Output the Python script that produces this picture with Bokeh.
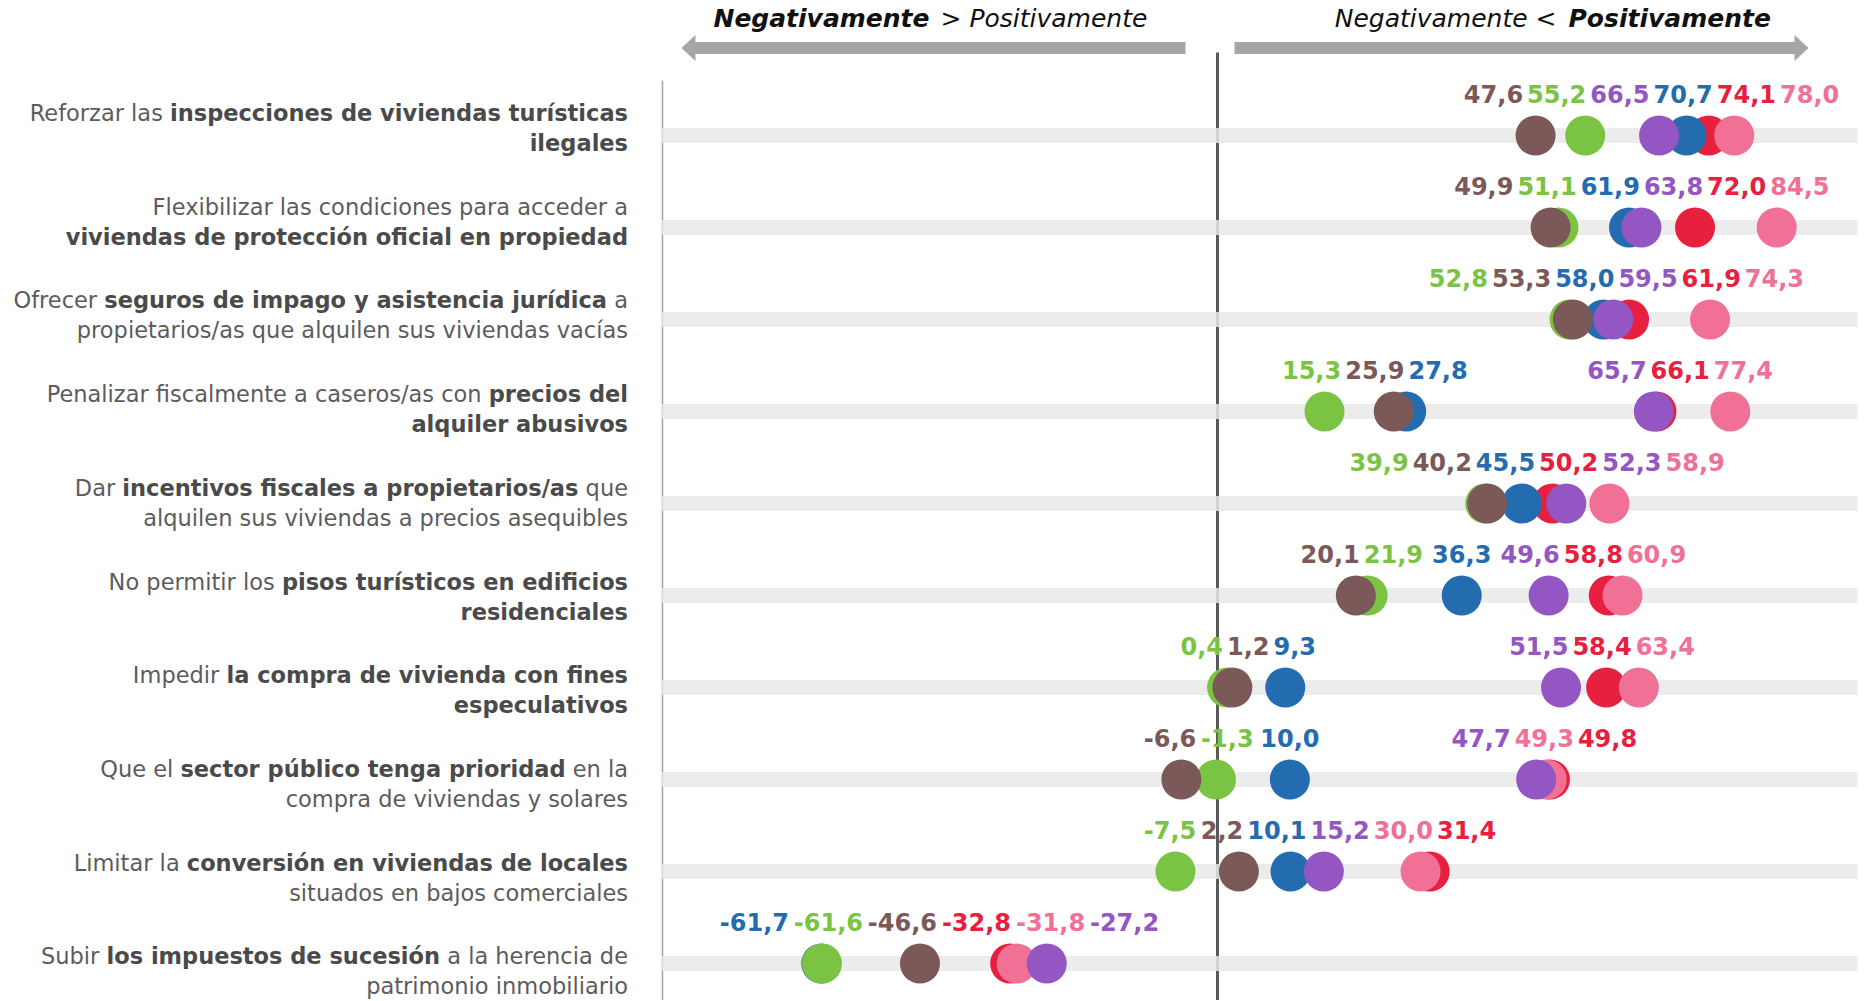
from bokeh.plotting import figure
from bokeh.models import Range1d, Div, ColumnDataSource
from bokeh.layouts import row, column
from bokeh.embed import file_html
from bokeh.resources import INLINE
from bokeh.core.properties import value

# ---------------- data ----------------
categories = [
    'Reforzar las <b>inspecciones de viviendas turísticas</b><br><b>ilegales</b>',
    'Flexibilizar las condiciones para acceder a<br><b>viviendas de protección oficial en propiedad</b>',
    'Ofrecer <b>seguros de impago y asistencia jurídica</b> a<br>propietarios/as que alquilen sus viviendas vacías',
    'Penalizar fiscalmente a caseros/as con <b>precios del</b><br><b>alquiler abusivos</b>',
    'Dar <b>incentivos fiscales a propietarios/as</b> que<br>alquilen sus viviendas a precios asequibles',
    'No permitir los <b>pisos turísticos en edificios</b><br><b>residenciales</b>',
    'Impedir <b>la compra de vivienda con fines</b><br><b>especulativos</b>',
    'Que el <b>sector público tenga prioridad</b> en la<br>compra de viviendas y solares',
    'Limitar la <b>conversión en viviendas de locales</b><br>situados en bajos comerciales',
    'Subir <b>los impuestos de sucesión</b> a la herencia de<br>patrimonio inmobiliario',
]

serie_marron  = [47.6, 49.9, 53.3, 25.9, 40.2, 20.1, 1.2, -6.6, 2.2, -46.6]
serie_verde   = [55.2, 51.1, 52.8, 15.3, 39.9, 21.9, 0.4, -1.3, -7.5, -61.6]
serie_azul    = [70.7, 61.9, 58.0, 27.8, 45.5, 36.3, 9.3, 10.0, 10.1, -61.7]
serie_roja    = [74.1, 72.0, 61.9, 66.1, 50.2, 58.8, 58.4, 49.8, 31.4, -32.8]
serie_morada  = [66.5, 63.8, 59.5, 65.7, 52.3, 49.6, 51.5, 47.7, 15.2, -27.2]
serie_rosa    = [78.0, 84.5, 74.3, 77.4, 58.9, 60.9, 63.4, 49.3, 30.0, -31.8]

header_left = ("Negativamente", "> Positivamente")
header_right = ("Negativamente <", "Positivamente")

# drawing order (bottom to top) with colours
series = [
    (serie_roja,   "#e8203f"),
    (serie_azul,   "#236cb0"),
    (serie_verde,  "#7bc443"),
    (serie_rosa,   "#f07096"),
    (serie_morada, "#9356c2"),
    (serie_marron, "#7b5958"),
]

# ---------------- geometry ----------------
MARGIN = 0
LABEL_W = 653
FIG_W = 1216
FIG_H = 1000
ZERO_SX = 1224.0      # screenshot x of value 0
PX_PER_UNIT = 6.535
ROW0_Y = 135.0        # figure-local y of first row
ROW_STEP = 92.0
LAB0_Y = 128.0        # centre of first category label
LAB_STEP = 93.7


def sx2x(sx):
    return (sx - ZERO_SX) / PX_PER_UNIT


def sy2y(sy):
    return (sy - MARGIN - ROW0_Y) / ROW_STEP


x_start = sx2x(MARGIN + LABEL_W)
x_end = sx2x(MARGIN + LABEL_W + FIG_W)
y_top = sy2y(MARGIN)
y_bottom = sy2y(MARGIN + FIG_H)

p = figure(width=FIG_W, height=FIG_H,
           x_range=Range1d(x_start, x_end), y_range=Range1d(y_bottom, y_top),
           output_backend="svg", toolbar_location=None, min_border=0,
           x_axis_location=None, y_axis_location=None)
p.grid.visible = False
p.outline_line_color = None
p.background_fill_color = "white"
p.border_fill_color = "white"

rows_idx = list(range(len(categories)))

# vertical lines
p.segment(x0=[sx2x(662)], y0=[sy2y(80)], x1=[sx2x(662)], y1=[y_bottom],
          line_color="#a3a3a3", line_width=1.5)
p.segment(x0=[sx2x(1217)], y0=[sy2y(52)], x1=[sx2x(1217)], y1=[y_bottom],
          line_color="#5a5a5a", line_width=3)

# bands
p.hbar(y=rows_idx, left=sx2x(661), right=sx2x(1857), height=15 / ROW_STEP,
       fill_color="#e9e9e9", line_color=None, fill_alpha=0.85)

# arrows
def arrow_poly(tip, base, end, yc, half_bar=6, half_head=13):
    xs = [tip, base, base, end, end, base, base]
    ys = [yc, yc - half_head, yc - half_bar, yc - half_bar, yc + half_bar, yc + half_bar, yc + half_head]
    return [sx2x(v) for v in xs], [sy2y(v) for v in ys]

ax, ay = arrow_poly(681, 695, 1185, 47.5)
p.patch(ax, ay, fill_color="#a6a6a6", line_color=None)
ax, ay = arrow_poly(1808, 1794, 1234, 47.5)
p.patch(ax, ay, fill_color="#a6a6a6", line_color=None)

# header texts
hdr_font = value("DejaVu Sans")
HDR_BASE = 18
p.text(x=[sx2x(929)], y=[sy2y(HDR_BASE)], text=[header_left[0]], text_align="right",
       text_baseline="alphabetic", text_font=hdr_font, text_font_style="bold italic",
       text_font_size="25px", text_color="#111111")
p.text(x=[sx2x(940)], y=[sy2y(HDR_BASE)], text=[header_left[1]], text_align="left",
       text_baseline="alphabetic", text_font=hdr_font, text_font_style="italic",
       text_font_size="25px", text_color="#111111")
p.text(x=[sx2x(1556)], y=[sy2y(HDR_BASE)], text=[header_right[0]], text_align="right",
       text_baseline="alphabetic", text_font=hdr_font, text_font_style="italic",
       text_font_size="25px", text_color="#111111")
p.text(x=[sx2x(1568)], y=[sy2y(HDR_BASE)], text=[header_right[1]], text_align="left",
       text_baseline="alphabetic", text_font=hdr_font, text_font_style="bold italic",
       text_font_size="25px", text_color="#111111")

# dots
for vals, col in series:
    p.scatter(x=vals, y=rows_idx, size=40, fill_color=col, line_color=None)

# value labels, spread to avoid overlap
FS = 24.0
def label_width(s):
    w = 0.0
    for ch in s:
        if ch.isdigit():
            w += 0.696
        elif ch == ",":
            w += 0.38
        elif ch == "-":
            w += 0.45
    return w * FS


def fmt(v):
    return ("%.1f" % v).replace(".", ",")


def spread(centers, widths, gap):
    n = len(centers)
    order = sorted(range(n), key=lambda i: centers[i])

    def place(items):
        offs = []
        acc = 0.0
        for j in items:
            offs.append(acc + widths[j] / 2)
            acc += widths[j] + gap
        total = acc - gap
        left = sum(centers[j] - o for j, o in zip(items, offs)) / len(items)
        return left, total, offs

    clusters = []
    for i in order:
        clusters.append([i])
        while len(clusters) > 1:
            l1, t1, _ = place(clusters[-2])
            l2, _, _ = place(clusters[-1])
            if l1 + t1 + gap > l2:
                clusters[-2:] = [clusters[-2] + clusters[-1]]
            else:
                break
    out = [0.0] * n
    for c in clusters:
        left, total, offs = place(c)
        for j, o in zip(c, offs):
            out[j] = left + o
    return out


lx, ly, lt, lc = [], [], [], []
for r in rows_idx:
    vals = [s[0][r] for s in series]
    cols = [s[1] for s in series]
    texts = [fmt(v) for v in vals]
    cpx = [v * PX_PER_UNIT for v in vals]
    wpx = [label_width(t) for t in texts]
    pos = spread(cpx, wpx, 4.0)
    for k in range(len(vals)):
        lx.append(pos[k] / PX_PER_UNIT)
        ly.append(r - 42.0 / ROW_STEP)
        lt.append(texts[k])
        lc.append(cols[k])

src = ColumnDataSource(dict(x=lx, y=ly, text=lt, color=lc))
p.text(x="x", y="y", text="text", text_color="color", source=src,
       text_align="center", text_baseline="middle", text_font=value("DejaVu Sans"),
       text_font_style="bold", text_font_size="24px")

# ---------------- category labels (HTML) ----------------
INNER_H = int(round(LAB_STEP))

def label_div(html, h):
    html = html.replace("<b>", '<b style="font-weight:700;color:#4a4a4a">')
    inner = ('<div style="width:%dpx;height:%dpx;display:flex;flex-direction:column;'
             'justify-content:center;">'
             '<div style="text-align:right;font-family:\'DejaVu Sans\',sans-serif;'
             'font-size:22.5px;line-height:30.5px;color:#5c5c5c;white-space:nowrap;">%s</div></div>'
             % (LABEL_W - 25, INNER_H, html))
    return Div(text=inner, width=LABEL_W, height=h, margin=(0, 0, 0, 0))

n = len(categories)
bounds = [int(round(LAB0_Y - INNER_H / 2.0 + LAB_STEP * k)) for k in range(n)]
divs = [Div(text="", width=LABEL_W, height=bounds[0], margin=(0, 0, 0, 0))]
for i, c in enumerate(categories):
    if i < n - 1:
        h = bounds[i + 1] - bounds[i]
    else:
        h = FIG_H - bounds[i]
    divs.append(label_div(c, h))

left_col = column(divs, spacing=0)
layout = row([left_col, p], spacing=0)

open("out.html", "w").write(file_html(layout, INLINE))
